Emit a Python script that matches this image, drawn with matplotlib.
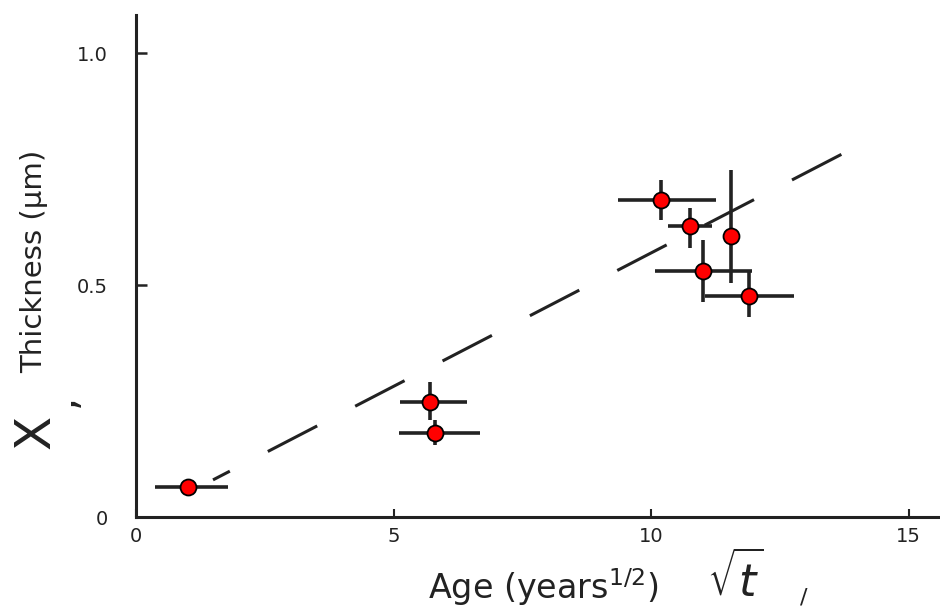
import matplotlib.pyplot as plt

# Oxide thickness vs sqrt(age)
age = [1.0, 5.7, 5.8, 10.2, 10.75, 11.55, 11.0, 11.9]
thick = [0.065, 0.248, 0.182, 0.683, 0.627, 0.606, 0.530, 0.476]
age_lo = [0.37, 5.13, 5.10, 9.36, 10.33, 11.55, 10.08, 11.05]
age_hi = [1.78, 6.43, 6.68, 11.26, 11.18, 11.55, 11.96, 12.78]
thick_lo = [0.065, 0.21, 0.155, 0.64, 0.58, 0.504, 0.463, 0.431]
thick_hi = [0.065, 0.29, 0.21, 0.726, 0.666, 0.748, 0.597, 0.528]

fit_x = [1.495, 13.86]
fit_y = [0.080, 0.791]

xticks = [0, 5, 10, 15]
xtick_labels = ["0", "5", "10", "15"]
yticks = [0, 0.5, 1.0]
ytick_labels = ["0", "0.5", "1.0"]

ink = "#222222"

fig = plt.figure(figsize=(9.4, 6.13), dpi=100)
ax = fig.add_axes([0.1447, 0.1566, 0.8553, 0.819])

# dashed trend line (long dashes, scan style)
ax.plot(fit_x, fit_y, color=ink, lw=2.2, linestyle=(12.0, (18.2, 14.0)))

# error bars
ax.hlines(thick, age_lo, age_hi, color=ink, lw=2.6, zorder=2)
ax.vlines(age, thick_lo, thick_hi, color=ink, lw=2.6, zorder=2)

ax.plot(age, thick, "o", ms=11.5, mfc="red", mec="black", mew=1.3, zorder=3)

ax.set_xlim(0, 15.61)
ax.set_ylim(0, 1.082)
for s in ["top", "right"]:
    ax.spines[s].set_visible(False)
for s in ["left", "bottom"]:
    ax.spines[s].set_linewidth(2.2)
    ax.spines[s].set_color(ink)

ax.set_xticks(xticks)
ax.set_xticklabels(xtick_labels)
ax.set_yticks(yticks)
ax.set_yticklabels(ytick_labels)
ax.tick_params(axis="x", direction="in", length=6, width=1.5, pad=7,
               labelsize=14, colors=ink)
ax.tick_params(axis="y", direction="in", length=8, width=1.8, pad=20,
               labelsize=14, colors=ink)

# axis titles
fig.text(0.578, 0.043, "Age (years$^{1/2}$)", ha="center", va="center",
         fontsize=24, color=ink)
fig.text(0.782, 0.055, r"$\sqrt{t}$", ha="center", va="center",
         fontsize=32, color=ink)
fig.text(0.855, 0.025, "/", ha="center", va="center", fontsize=16,
         color=ink)
fig.text(0.038, 0.295, "X", rotation=90, ha="center", va="center",
         fontsize=36, color=ink)
fig.text(0.066, 0.347, ",", rotation=90, ha="center", va="center",
         fontsize=30, color=ink)
fig.text(0.036, 0.573, "Thickness (µm)", rotation=90, ha="center",
         va="center", fontsize=21, color=ink)

plt.savefig("out.png", dpi=100)
